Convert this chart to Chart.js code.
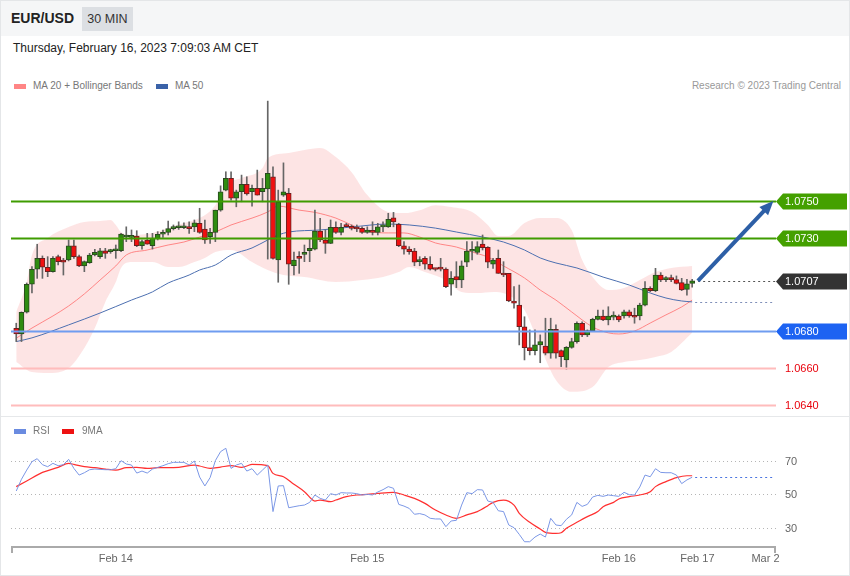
<!DOCTYPE html>
<html>
<head>
<meta charset="utf-8">
<script src="https://cdn.jsdelivr.net/npm/chart.js@4.4.1/dist/chart.umd.min.js"></script>
<style>
  body { margin: 0; background: #fff; font-family: Arial, "Liberation Sans", sans-serif; }
  #wrap { position: relative; width: 850px; height: 576px; overflow: hidden; }
  #frame { position: absolute; left: 0; top: 0; width: 848px; height: 574px; border: 1px solid #e4e6e8; }
  #head { position: absolute; left: 1px; top: 1px; width: 848px; height: 35px; background: #f5f6f7; }
  #sym { position: absolute; left: 11px; top: 10px; font-size: 14px; font-weight: bold; color: #222; line-height: 17px; }
  #tf { position: absolute; left: 82px; top: 7px; width: 51px; height: 24px; line-height: 24px; text-align: center;
        background: #dcdfe3; font-size: 12.5px; color: #333; }
  #date { position: absolute; left: 13px; top: 40px; font-size: 12px; color: #222; line-height: 16px; }
  .leg { position: absolute; font-size: 10px; color: #777; line-height: 12px; }
  .sw { position: absolute; width: 12px; height: 5px; }
  #sep { position: absolute; left: 1px; top: 416px; width: 848px; height: 1px; background: #e6e8ea; }
  canvas { position: absolute; left: 0; }
</style>
</head>
<body>
<div id="wrap">
  <div id="frame"></div>
  <div id="head"></div>
  <div id="sym">EUR/USD</div>
  <div id="tf">30 MIN</div>
  <div id="date">Thursday, February 16, 2023 7:09:03 AM CET</div>

  <div class="sw" style="left:14px; top:84px; background:#ff8585;"></div>
  <div class="leg" style="left:33px; top:80px;">MA 20 + Bollinger Bands</div>
  <div class="sw" style="left:156px; top:84px; background:#3a62a8;"></div>
  <div class="leg" style="left:175px; top:80px;">MA 50</div>
  <div class="leg" style="right:9px; top:80px; color:#999;">Research © 2023 Trading Central</div>

  <canvas id="price" width="850" height="320" style="top:95px;"></canvas>
  <div id="sep"></div>
  <canvas id="rsi" width="850" height="159" style="top:416px;"></canvas>

  <div class="sw" style="left:14px; top:429px; background:#6a8be0;"></div>
  <div class="leg" style="left:33px; top:425px;">RSI</div>
  <div class="sw" style="left:62px; top:429px; background:#ee1111;"></div>
  <div class="leg" style="left:82px; top:425px;">9MA</div>
</div>

<script>
// 30 min candles, index 0 = first bar (Feb 13 afternoon), 129 = Feb 16 07:00
const opens = [1.06814,1.06783,1.06900,1.07051,1.07132,1.07191,1.07143,1.07119,1.07200,1.07182,
  1.07182,1.07259,1.07200,1.07150,1.07167,1.07209,1.07200,1.07232,1.07227,1.07232,
  1.07232,1.07306,1.07304,1.07311,1.07259,1.07290,1.07259,1.07299,1.07321,1.07331,
  1.07351,1.07356,1.07356,1.07361,1.07361,1.07380,1.07349,1.07308,1.07331,1.07451,
  1.07559,1.07622,1.07515,1.07550,1.07590,1.07550,1.07568,1.07550,1.07565,1.07631,
  1.07182,1.07532,1.07542,1.07151,1.07200,1.07212,1.07232,1.07241,1.07338,1.07290,
  1.07272,1.07358,1.07331,1.07371,1.07358,1.07358,1.07353,1.07331,1.07340,1.07331,
  1.07361,1.07361,1.07410,1.07374,1.07259,1.07241,1.07230,1.07173,1.07191,1.07159,
  1.07135,1.07140,1.07133,1.07051,1.07092,1.07074,1.07170,1.07229,1.07223,1.07268,
  1.07250,1.07159,1.07191,1.07110,1.07110,1.06961,1.06939,1.06822,1.06709,1.06693,
  1.06724,1.06718,1.06679,1.06808,1.06693,1.06643,1.06711,1.06742,1.06841,1.06778,
  1.06801,1.06862,1.06880,1.06859,1.06874,1.06880,1.06880,1.06903,1.06880,1.06880,
  1.06939,1.07029,1.07017,1.07101,1.07076,1.07078,1.07076,1.07060,1.07024,1.07056];
const highs = [1.06841,1.06902,1.07058,1.07146,1.07267,1.07204,1.07200,1.07200,1.07209,1.07191,
  1.07290,1.07290,1.07209,1.07177,1.07218,1.07240,1.07245,1.07245,1.07240,1.07263,
  1.07326,1.07361,1.07344,1.07340,1.07290,1.07326,1.07326,1.07335,1.07344,1.07392,
  1.07371,1.07388,1.07383,1.07388,1.07398,1.07461,1.07398,1.07353,1.07451,1.07582,
  1.07658,1.07658,1.07559,1.07640,1.07631,1.07586,1.07667,1.07622,1.08039,1.07685,
  1.07559,1.07706,1.07568,1.07225,1.07227,1.07263,1.07299,1.07451,1.07407,1.07344,
  1.07398,1.07388,1.07380,1.07380,1.07371,1.07371,1.07361,1.07361,1.07388,1.07380,
  1.07388,1.07434,1.07439,1.07380,1.07281,1.07254,1.07245,1.07200,1.07200,1.07200,
  1.07137,1.07191,1.07140,1.07119,1.07173,1.07177,1.07281,1.07281,1.07281,1.07317,
  1.07254,1.07191,1.07236,1.07173,1.07110,1.07038,1.07047,1.06876,1.06805,1.06805,
  1.06778,1.06868,1.06868,1.06832,1.06697,1.06715,1.06760,1.06849,1.06849,1.06805,
  1.06868,1.06912,1.06912,1.06930,1.06903,1.06886,1.06912,1.06912,1.06922,1.06949,
  1.07065,1.07038,1.07137,1.07114,1.07092,1.07101,1.07096,1.07083,1.07078,1.07078];
const lows = [1.06742,1.06742,1.06896,1.07004,1.07083,1.07083,1.07092,1.07117,1.07155,1.07101,
  1.07177,1.07191,1.07146,1.07119,1.07164,1.07204,1.07191,1.07191,1.07218,1.07191,
  1.07227,1.07281,1.07281,1.07254,1.07241,1.07267,1.07241,1.07290,1.07304,1.07317,
  1.07344,1.07347,1.07351,1.07326,1.07335,1.07326,1.07272,1.07272,1.07281,1.07445,
  1.07555,1.07505,1.07469,1.07496,1.07532,1.07473,1.07532,1.07496,1.07187,1.07187,
  1.07062,1.07525,1.07051,1.07101,1.07110,1.07173,1.07173,1.07236,1.07281,1.07218,
  1.07270,1.07326,1.07317,1.07361,1.07344,1.07335,1.07326,1.07326,1.07317,1.07317,
  1.07335,1.07358,1.07361,1.07254,1.07213,1.07213,1.07151,1.07151,1.07133,1.07128,
  1.07123,1.07123,1.07033,1.06993,1.07033,1.07033,1.07146,1.07182,1.07213,1.07236,
  1.07140,1.07137,1.07110,1.07092,1.06957,1.06922,1.06724,1.06643,1.06670,1.06670,
  1.06628,1.06670,1.06652,1.06652,1.06607,1.06593,1.06706,1.06733,1.06769,1.06769,
  1.06796,1.06859,1.06855,1.06832,1.06859,1.06849,1.06868,1.06873,1.06841,1.06859,
  1.06935,1.07011,1.07011,1.07065,1.07065,1.07065,1.07053,1.07017,1.06993,1.07035];
const closes = [1.06783,1.06900,1.07051,1.07132,1.07191,1.07143,1.07119,1.07191,1.07173,1.07171,
  1.07259,1.07200,1.07150,1.07173,1.07209,1.07223,1.07232,1.07218,1.07232,1.07234,
  1.07322,1.07311,1.07311,1.07259,1.07281,1.07268,1.07299,1.07321,1.07331,1.07351,
  1.07361,1.07360,1.07358,1.07351,1.07383,1.07331,1.07290,1.07331,1.07451,1.07550,
  1.07622,1.07515,1.07550,1.07590,1.07538,1.07568,1.07532,1.07568,1.07649,1.07191,
  1.07495,1.07550,1.07160,1.07182,1.07191,1.07215,1.07245,1.07338,1.07290,1.07272,
  1.07358,1.07331,1.07358,1.07362,1.07353,1.07349,1.07331,1.07344,1.07331,1.07361,
  1.07364,1.07401,1.07388,1.07259,1.07241,1.07227,1.07170,1.07182,1.07159,1.07133,
  1.07131,1.07133,1.07038,1.07083,1.07074,1.07151,1.07230,1.07233,1.07254,1.07248,
  1.07170,1.07182,1.07110,1.07101,1.06961,1.06949,1.06822,1.06709,1.06693,1.06724,
  1.06742,1.06679,1.06808,1.06679,1.06661,1.06711,1.06742,1.06841,1.06778,1.06801,
  1.06862,1.06880,1.06859,1.06880,1.06878,1.06859,1.06903,1.06880,1.06873,1.06939,
  1.07029,1.07017,1.07101,1.07074,1.07078,1.07076,1.07056,1.07020,1.07053,1.07070];

// MA 20 / Bollinger / MA 50, read at bar positions
const ma20Idx = [0,3,7,10,13,16,19,21,25,29,32,35,38,41,45,48,50,54,57,61,64,67,71,74,77,80,84,87,90,93,97,100,103,106,110,113,115,118,121,124,127,129];
const ma20 = [1.06760,1.06815,1.06880,1.06934,1.06999,1.07074,1.07150,1.07209,1.07236,1.07263,1.07279,1.07306,1.07333,1.07371,1.07408,1.07441,1.07473,1.07451,1.07439,1.07408,1.07371,1.07338,1.07328,1.07328,1.07306,1.07274,1.07252,1.07225,1.07198,1.07150,1.07085,1.07020,1.06966,1.06902,1.06821,1.06789,1.06783,1.06799,1.06842,1.06886,1.06929,1.06966];
const upperIdx = [0,2,3,6,10,13,16,18,19,20,22,26,29,32,35,38,40,43,47,48,52,55,58,61,64,67,71,74,77,80,83,87,90,92,94,97,100,103,106,108,110,113,116,119,122,125,129];
const upperBand = [1.06902,1.07063,1.07209,1.07301,1.07360,1.07387,1.07392,1.07398,1.07371,1.07333,1.07317,1.07328,1.07354,1.07381,1.07408,1.07478,1.07586,1.07624,1.07678,1.07732,1.07759,1.07775,1.07786,1.07737,1.07656,1.07532,1.07441,1.07435,1.07451,1.07478,1.07468,1.07441,1.07371,1.07311,1.07311,1.07381,1.07408,1.07408,1.07344,1.07182,1.07090,1.07020,1.07031,1.07074,1.07117,1.07139,1.07150];
const lowerIdx = [0,3,6,10,13,15,17,19,20,22,26,29,31,34,36,38,41,45,48,51,55,61,66,70,73,75,78,82,85,88,91,94,97,100,103,106,110,113,116,119,122,125,129];
const lowerBand = [1.06632,1.06578,1.06573,1.06600,1.06708,1.06815,1.06956,1.07063,1.07139,1.07171,1.07171,1.07144,1.07144,1.07171,1.07193,1.07225,1.07236,1.07171,1.07128,1.07101,1.07090,1.07063,1.07074,1.07090,1.07117,1.07144,1.07117,1.07074,1.07010,1.07004,1.07010,1.06993,1.06912,1.06713,1.06535,1.06471,1.06497,1.06605,1.06632,1.06643,1.06659,1.06686,1.06789];
const ma50Idx = [0,3,10,16,22,26,29,33,35,38,41,45,48,50,52,58,64,71,75,80,84,89,93,97,100,103,107,112,117,121,124,127,129];
const ma50 = [1.06742,1.06762,1.06832,1.06896,1.06966,1.07010,1.07058,1.07101,1.07128,1.07155,1.07209,1.07247,1.07290,1.07317,1.07333,1.07344,1.07360,1.07376,1.07371,1.07354,1.07333,1.07306,1.07279,1.07236,1.07193,1.07166,1.07139,1.07090,1.07047,1.07004,1.06977,1.06961,1.06956];

// key levels
const resistances = [1.0750, 1.0730];
const pivot = 1.0707;
const supportMain = 1.0680;
const supportsMinor = [1.0660, 1.0640];
const targetBar = 144.5;

// RSI panel
const rsiValues = [51.8,58.8,64.3,69.3,71.1,67.5,66.3,68.3,66.9,67.5,
  70.7,65.3,61.3,62.7,64.5,64.9,64.7,64.5,64.5,65.1,
  69.9,67.9,67.3,62.5,63.7,62.5,64.9,65.9,66.9,68.1,
  68.9,68.9,68.9,67.3,69.7,60.1,54.8,59.8,69.9,75.3,
  77.3,65.3,67.3,68.3,63.7,65.1,61.3,64.3,67.3,39.5,
  54.8,55.0,41.8,42.4,43.0,43.4,45.0,49.4,47.4,46.4,
  50.2,49.4,50.8,50.6,50.6,50.2,49.4,49.8,49.4,51.2,
  52.6,54.4,53.4,43.8,42.8,41.4,37.9,38.3,37.5,35.5,
  35.1,35.1,30.5,33.9,34.3,43.4,50.8,50.2,52.6,52.4,
  45.8,45.0,40.0,39.5,31.5,29.9,25.9,21.5,21.5,24.3,
  26.1,24.3,35.5,31.5,31.1,34.9,37.5,45.0,42.6,43.8,
  48.2,49.2,48.6,49.4,49.0,48.6,51.0,49.6,49.4,54.2,
  61.3,60.3,65.1,62.9,62.7,62.7,61.3,56.2,58.4,60.0];
const rsiMaIdx = [0,2,5,8,10,11,13,15,17,19,21,23,25,27,31,34,35,37,39,41,43,44,45,48,49,51,53,55,57,58,60,61,63,65,67,69,72,74,76,78,80,82,84,86,88,90,91,93,95,96,98,100,101,103,104,105,107,109,111,112,114,115,117,119,121,122,124,126,128,129];
const rsiMa = [54.4,57.8,62.9,65.9,68.3,67.7,66.3,65.7,64.9,64.3,65.7,65.9,65.3,65.7,65.9,67.3,66.7,65.3,66.1,66.9,65.9,66.7,67.7,66.9,62.3,60.3,55.8,51.4,45.8,46.4,45.4,46.4,48.4,49.4,49.8,50.4,51.0,49.4,47.4,44.4,40.4,37.5,35.5,37.5,39.5,43.0,45.0,46.4,43.4,38.5,33.1,29.1,27.1,26.5,26.9,29.5,33.1,36.5,39.5,42.4,45.0,47.0,48.4,49.4,51.4,54.4,57.4,59.8,60.9,60.9];
const rsiGrid = [30, 50, 70];
const dateTickIdx = [19, 67, 115, 130, 143];
const dateTickLabels = ['Feb 14', 'Feb 15', 'Feb 16', 'Feb 17', 'Mar 2'];

const xMin = -1, xMax = 145;
const pts = (xs, ys) => xs.map((x, k) => ({ x, y: ys[k] }));
const bars = opens.map((o, i) => i);
const isUp = bars.map(i => closes[i] >= opens[i]);

// === LEVELS, LABELS, ARROW ===
function tagBox(ctx, x0, yy, fill, text) {
  ctx.beginPath();
  ctx.moveTo(x0, yy);
  ctx.lineTo(x0 + 7, yy - 8);
  ctx.lineTo(x0 + 71, yy - 8);
  ctx.lineTo(x0 + 71, yy + 8);
  ctx.lineTo(x0 + 7, yy + 8);
  ctx.closePath();
  ctx.fillStyle = fill;
  ctx.fill();
  ctx.fillStyle = '#fff';
  ctx.font = '11px Arial, "Liberation Sans", sans-serif';
  ctx.textBaseline = 'middle';
  ctx.textAlign = 'left';
  ctx.fillText(text, x0 + 9, yy + 0.5);
}

const levelsPlugin = {
  id: 'levels',
  afterDatasetsDraw(chart) {
    const { ctx, chartArea: a, scales: { x, y } } = chart;
    ctx.save();
    const hline = (v, color, w) => {
      const yy = Math.round(y.getPixelForValue(v)) + 0.5;
      ctx.beginPath();
      ctx.moveTo(a.left, yy);
      ctx.lineTo(a.right, yy);
      ctx.strokeStyle = color;
      ctx.lineWidth = w;
      ctx.stroke();
      return yy;
    };
    supportsMinor.forEach(v => {
      const yy = hline(v, '#ffbcbc', 2);
      ctx.fillStyle = '#e8000b';
      ctx.font = '11px Arial, "Liberation Sans", sans-serif';
      ctx.textBaseline = 'middle';
      ctx.fillText(v.toFixed(4), a.right + 9, yy + 0.5);
    });
    tagBox(ctx, a.right, hline(supportMain, '#6f9cf0', 2), '#1d63f2', supportMain.toFixed(4));
    resistances.forEach(v => {
      tagBox(ctx, a.right, hline(v, '#3f9c00', 2), '#44a000', v.toFixed(4));
    });

    // dotted: current price and MA50 projection
    const xLast = x.getPixelForValue(bars.length - 1);
    ctx.setLineDash([2, 3]);
    ctx.lineWidth = 1;
    let yy = Math.round(y.getPixelForValue(pivot)) + 0.5;
    ctx.beginPath();
    ctx.moveTo(xLast + 6, yy);
    ctx.lineTo(a.right, yy);
    ctx.strokeStyle = '#555';
    ctx.stroke();
    yy = Math.round(y.getPixelForValue(ma50[ma50.length - 1])) + 0.5;
    ctx.beginPath();
    ctx.moveTo(xLast + 3, yy);
    ctx.lineTo(a.right - 2, yy);
    ctx.strokeStyle = '#7f8fb8';
    ctx.stroke();
    ctx.setLineDash([]);
    tagBox(ctx, a.right, Math.round(y.getPixelForValue(pivot)) + 0.5, '#333', pivot.toFixed(4));

    // arrow towards first resistance
    const x0 = x.getPixelForValue(bars.length + 0.1), y0 = y.getPixelForValue(pivot);
    const x1 = x.getPixelForValue(targetBar), y1 = y.getPixelForValue(resistances[0]);
    const ang = Math.atan2(y1 - y0, x1 - x0);
    const head = 14;
    ctx.beginPath();
    ctx.moveTo(x0, y0);
    ctx.lineTo(x1 - Math.cos(ang) * head * 0.8, y1 - Math.sin(ang) * head * 0.8);
    ctx.strokeStyle = '#2d5fa6';
    ctx.lineWidth = 4;
    ctx.stroke();
    ctx.beginPath();
    ctx.moveTo(x1, y1);
    ctx.lineTo(x1 - head * Math.cos(ang) + 6 * Math.sin(ang), y1 - head * Math.sin(ang) - 6 * Math.cos(ang));
    ctx.lineTo(x1 - head * Math.cos(ang) - 6 * Math.sin(ang), y1 - head * Math.sin(ang) + 6 * Math.cos(ang));
    ctx.closePath();
    ctx.fillStyle = '#2d5fa6';
    ctx.fill();
    ctx.restore();
  }
};

new Chart(document.getElementById('price'), {
  type: 'bar',
  data: {
    datasets: [
      {
        type: 'line', label: 'BB up', data: pts(upperIdx, upperBand),
        borderWidth: 0, pointRadius: 0, cubicInterpolationMode: 'monotone',
        fill: '+1', backgroundColor: 'rgba(252, 205, 205, 0.55)', order: 10
      },
      {
        type: 'line', label: 'BB low', data: pts(lowerIdx, lowerBand),
        borderWidth: 0, pointRadius: 0, cubicInterpolationMode: 'monotone', order: 10
      },
      {
        type: 'line', label: 'MA 20', data: pts(ma20Idx, ma20),
        borderColor: 'rgba(255, 110, 110, 0.8)', borderWidth: 1, pointRadius: 0,
        cubicInterpolationMode: 'monotone', order: 6
      },
      {
        type: 'line', label: 'MA 50', data: pts(ma50Idx, ma50),
        borderColor: '#4c6fb0', borderWidth: 1, pointRadius: 0,
        cubicInterpolationMode: 'monotone', order: 5
      },
      {
        label: 'wick', data: bars.map(i => ({ x: i, y: [lows[i], highs[i]] })),
        backgroundColor: '#666', barThickness: 1, grouped: false, order: 2
      },
      {
        label: 'body', data: bars.map(i => ({ x: i, y: [opens[i], closes[i]] })),
        backgroundColor: isUp.map(u => u ? '#2f8c10' : '#f01010'),
        borderColor: isUp.map(u => u ? '#2a4a20' : '#6a2020'),
        borderWidth: 1, borderSkipped: false, barThickness: 5, minBarLength: 2,
        grouped: false, order: 1
      }
    ]
  },
  options: {
    responsive: false,
    animation: false,
    layout: { padding: { left: 11, right: 74, top: 0, bottom: 0 } },
    plugins: { legend: { display: false }, tooltip: { enabled: false } },
    scales: {
      x: { type: 'linear', min: xMin, max: xMax, offset: false, display: false },
      y: { type: 'linear', min: 1.06346, max: 1.08072, display: false }
    }
  },
  plugins: [levelsPlugin]
});

// === RSI PANEL ===
const rsiDecor = {
  id: 'rsiDecor',
  beforeDatasetsDraw(chart) {
    const { ctx, chartArea: a, scales: { y } } = chart;
    ctx.save();
    ctx.setLineDash([1, 3]);
    ctx.strokeStyle = '#b5b5b5';
    ctx.lineWidth = 1;
    ctx.font = '11px Arial, "Liberation Sans", sans-serif';
    ctx.textBaseline = 'middle';
    ctx.fillStyle = '#666';
    rsiGrid.forEach(v => {
      const yy = Math.round(y.getPixelForValue(v)) + 0.5;
      ctx.beginPath();
      ctx.moveTo(a.left, yy);
      ctx.lineTo(a.right, yy);
      ctx.stroke();
      ctx.fillText(String(v), a.right + 9, yy);
    });
    ctx.restore();
  },
  afterDatasetsDraw(chart) {
    const { ctx, chartArea: a, scales: { x, y } } = chart;
    ctx.save();
    // projection of last RSI value
    const yy = Math.round(y.getPixelForValue(rsiValues[rsiValues.length - 1])) + 0.5;
    ctx.setLineDash([2, 3]);
    ctx.beginPath();
    ctx.moveTo(x.getPixelForValue(rsiValues.length - 1) + 3, yy);
    ctx.lineTo(a.right - 2, yy);
    ctx.strokeStyle = '#4a74e0';
    ctx.lineWidth = 1;
    ctx.stroke();
    ctx.setLineDash([]);
    // time axis
    ctx.strokeStyle = '#aaa';
    ctx.lineWidth = 2;
    ctx.beginPath();
    ctx.moveTo(a.left + 1, a.bottom + 6);
    ctx.lineTo(a.left + 1, a.bottom);
    ctx.lineTo(a.right - 1, a.bottom);
    ctx.lineTo(a.right - 1, a.bottom + 6);
    ctx.stroke();
    ctx.fillStyle = '#666';
    ctx.font = '11px Arial, "Liberation Sans", sans-serif';
    ctx.textAlign = 'center';
    ctx.textBaseline = 'middle';
    dateTickIdx.forEach((v, k) => {
      ctx.fillText(dateTickLabels[k], x.getPixelForValue(v), a.bottom + 12);
    });
    ctx.restore();
  }
};

new Chart(document.getElementById('rsi'), {
  type: 'line',
  data: {
    datasets: [
      {
        label: 'RSI', data: pts(bars, rsiValues),
        borderColor: '#7b97e6', borderWidth: 1, pointRadius: 0, tension: 0
      },
      {
        label: '9MA', data: pts(rsiMaIdx, rsiMa),
        borderColor: '#ff3030', borderWidth: 1.2, pointRadius: 0,
        cubicInterpolationMode: 'monotone'
      }
    ]
  },
  options: {
    responsive: false,
    animation: false,
    layout: { padding: { left: 11, right: 74, top: 0, bottom: 28 } },
    plugins: { legend: { display: false }, tooltip: { enabled: false } },
    scales: {
      x: { type: 'linear', min: xMin, max: xMax, offset: false, display: false },
      y: { type: 'linear', min: 18.36, max: 96.57, display: false }
    }
  },
  plugins: [rsiDecor]
});
</script>
</body>
</html>
